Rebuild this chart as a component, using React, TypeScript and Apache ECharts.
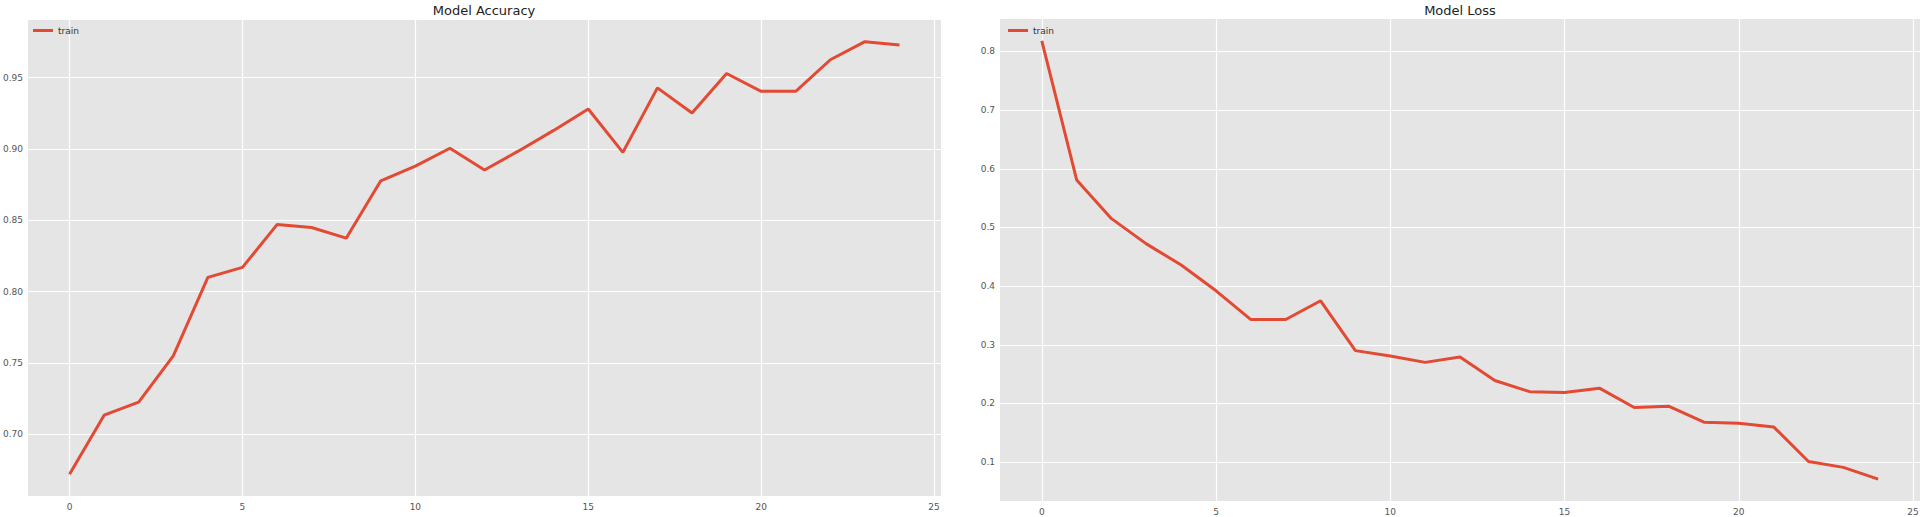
import React, { useEffect, useRef } from "react";
import * as echarts from "echarts";

const epochs = [0, 1, 2, 3, 4, 5, 6, 7, 8, 9, 10, 11, 12, 13, 14, 15, 16, 17, 18, 19, 20, 21, 22, 23, 24];
const accuracy = [0.672, 0.7135, 0.7226, 0.755, 0.81, 0.817, 0.847, 0.845, 0.8375, 0.8777, 0.888, 0.9005, 0.8853, 0.8988, 0.913, 0.928, 0.8976, 0.9428, 0.9252, 0.9529, 0.9404, 0.9404, 0.9625, 0.9752, 0.9729];
const loss = [0.818, 0.581, 0.515, 0.472, 0.436, 0.392, 0.343, 0.343, 0.375, 0.29, 0.281, 0.27, 0.279, 0.239, 0.22, 0.2185, 0.226, 0.193, 0.195, 0.168, 0.166, 0.16, 0.101, 0.091, 0.071];
const titles = ["Model Accuracy", "Model Loss"];
const seriesName = "train";

const RED = "#E24A33";
const FONT = "DejaVu Sans";

function padExtent(vals: number[]) {
  const mn = Math.min(...vals);
  const mx = Math.max(...vals);
  const m = (mx - mn) * 0.05;
  return [mn - m, mx + m];
}

function fmt(step: number, digits: number) {
  return (v: number) => {
    const r = v / step;
    if (Math.abs(r - Math.round(r)) > 1e-6) return "";
    return digits === 0 ? String(Math.round(v)) : v.toFixed(digits);
  };
}

export default function App() {
  const ref = useRef<HTMLDivElement>(null);
  useEffect(() => {
    if (!ref.current) return;
    const chart = echarts.init(ref.current, undefined, { renderer: "svg" });
    const [xMin, xMax] = padExtent(epochs);
    const [aMin, aMax] = padExtent(accuracy);
    const [lMin, lMax] = padExtent(loss);
    const labelStyle = { color: "#555", fontFamily: FONT, fontSize: 9 };
    const splitLine = { show: true, showMinLine: false, showMaxLine: false, lineStyle: { color: "#FFFFFF", width: 1.2 } };
    const xAxisBase = (gridIndex: number) => ({
      type: "value",
      gridIndex,
      min: xMin,
      max: xMax,
      minInterval: 5,
      maxInterval: 5,
      axisLine: { show: false },
      axisTick: { show: false },
      axisLabel: { ...labelStyle, margin: 6, showMinLabel: false, showMaxLabel: false, formatter: fmt(5, 0) },
      splitLine,
    });
    chart.setOption({
      animation: false,
      backgroundColor: "#FFFFFF",
      title: [
        { text: titles[0], left: 484, top: 4, textAlign: "center", padding: 0, textStyle: { fontFamily: FONT, fontSize: 13, fontWeight: "normal", color: "#222" } },
        { text: titles[1], left: 1460, top: 4, textAlign: "center", padding: 0, textStyle: { fontFamily: FONT, fontSize: 13, fontWeight: "normal", color: "#222" } },
      ],
      legend: [
        { left: 33, top: 26, padding: 0, icon: "rect", itemWidth: 20, itemHeight: 3, data: [seriesName], textStyle: { color: "#333", fontFamily: FONT, fontSize: 9 } },
        { left: 1008, top: 26, padding: 0, icon: "rect", itemWidth: 20, itemHeight: 3, data: [seriesName], textStyle: { color: "#333", fontFamily: FONT, fontSize: 9 } },
      ],
      grid: [
        { left: 27, top: 20, width: 914, height: 476, show: true, backgroundColor: "#E5E5E5", borderWidth: 0 },
        { left: 1000, top: 19, width: 920, height: 482, show: true, backgroundColor: "#E5E5E5", borderWidth: 0 },
      ],
      xAxis: [xAxisBase(0), xAxisBase(1)],
      yAxis: [
        {
          type: "value", gridIndex: 0, min: aMin, max: aMax, minInterval: 0.05, maxInterval: 0.05,
          axisLine: { show: false }, axisTick: { show: false },
          axisLabel: { ...labelStyle, margin: 5, showMinLabel: false, showMaxLabel: false, formatter: fmt(0.05, 2) },
          splitLine,
        },
        {
          type: "value", gridIndex: 1, min: lMin, max: lMax, minInterval: 0.1, maxInterval: 0.1,
          axisLine: { show: false }, axisTick: { show: false },
          axisLabel: { ...labelStyle, margin: 5, showMinLabel: false, showMaxLabel: false, formatter: fmt(0.1, 1) },
          splitLine,
        },
      ],
      series: [
        { name: seriesName, type: "line", xAxisIndex: 0, yAxisIndex: 0, showSymbol: false, data: epochs.map((e, i) => [e, accuracy[i]]), lineStyle: { color: RED, width: 3 }, itemStyle: { color: RED } },
        { name: seriesName, type: "line", xAxisIndex: 1, yAxisIndex: 1, showSymbol: false, data: epochs.map((e, i) => [e, loss[i]]), lineStyle: { color: RED, width: 3 }, itemStyle: { color: RED } },
      ],
    });
    return () => chart.dispose();
  }, []);
  return <div ref={ref} style={{ position: "absolute", left: 0, top: 0, width: 1930, height: 517 }} />;
}
